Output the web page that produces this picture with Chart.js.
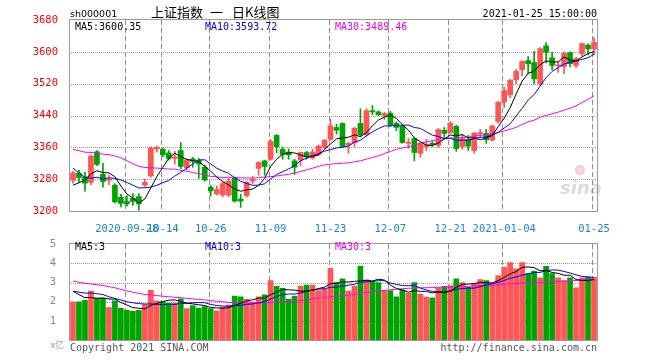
<!DOCTYPE html>
<html><head><meta charset="utf-8">
<script src="https://cdn.jsdelivr.net/npm/chart.js@4.4.1/dist/chart.umd.min.js"></script>
<style>
html,body{margin:0;padding:0;background:#fff;}
#wrap{position:relative;width:660px;height:360px;overflow:hidden;background:#fff;}
#c1{position:absolute;left:0;top:0;}
#c2{position:absolute;left:0;top:232px;}
</style></head><body>
<div id="wrap"><canvas id="c1" width="660" height="232"></canvas><canvas id="c2" width="660" height="128"></canvas></div>
<script>
// ---- data ----
const dates = ['2020-09-15','2020-09-16','2020-09-17','2020-09-18','2020-09-21','2020-09-22','2020-09-23','2020-09-24','2020-09-25','2020-09-28','2020-09-29','2020-09-30','2020-10-09','2020-10-12','2020-10-13','2020-10-14','2020-10-15','2020-10-16','2020-10-19','2020-10-20','2020-10-21','2020-10-22','2020-10-23','2020-10-26','2020-10-27','2020-10-28','2020-10-29','2020-10-30','2020-11-02','2020-11-03','2020-11-04','2020-11-05','2020-11-06','2020-11-09','2020-11-10','2020-11-11','2020-11-12','2020-11-13','2020-11-16','2020-11-17','2020-11-18','2020-11-19','2020-11-20','2020-11-23','2020-11-24','2020-11-25','2020-11-26','2020-11-27','2020-11-30','2020-12-01','2020-12-02','2020-12-03','2020-12-04','2020-12-07','2020-12-08','2020-12-09','2020-12-10','2020-12-11','2020-12-14','2020-12-15','2020-12-16','2020-12-17','2020-12-18','2020-12-21','2020-12-22','2020-12-23','2020-12-24','2020-12-25','2020-12-28','2020-12-29','2020-12-30','2020-12-31','2021-01-04','2021-01-05','2021-01-06','2021-01-07','2021-01-08','2021-01-11','2021-01-12','2021-01-13','2021-01-14','2021-01-15','2021-01-18','2021-01-19','2021-01-20','2021-01-21','2021-01-22','2021-01-25'];
const opens = [3277,3295,3286,3272,3349,3292,3277,3265,3235,3224,3232,3236,
  3265,3288,3356,3355,3346,3332,3352,3309,3331,3328,3310,3260,3243,3240,3240,3282,
  3230,3238,3275,3307,3326,3330,3390,3355,3348,3326,3328,3347,3333,3342,3360,3380,3410,3420,3366,3372,3420,
  3392,3452,3449,3440,3446,3420,3413,3370,3382,3345,3362,3370,3365,3403,3397,3413,3362,3380,3352,3394,3395,3378,3425,
  3474,3492,3530,3555,3578,3573,3520,3615,3585,3565,3563,3598,3566,3595,3617,3607];
const highs = [3300,3302,3298,3341,3352,3320,3290,3268,3242,3238,3244,3244,
  3280,3361,3364,3358,3352,3350,3372,3331,3335,3332,3315,3264,3263,3272,3282,3285,
  3242,3275,3287,3324,3328,3380,3392,3360,3356,3330,3348,3350,3355,3366,3380,3430,3418,3422,3373,3410,3457,
  3457,3465,3452,3448,3450,3424,3415,3382,3384,3372,3380,3376,3407,3410,3425,3416,3393,3390,3397,3405,3405,3416,3476,
  3511,3530,3556,3578,3588,3601,3611,3623,3599,3575,3600,3600,3586,3622,3620,3636];
const lows = [3270,3272,3250,3266,3314,3260,3266,3220,3210,3212,3214,3202,
  3262,3285,3348,3336,3328,3318,3306,3303,3310,3282,3275,3238,3240,3236,3236,3222,
  3209,3235,3268,3290,3290,3328,3346,3330,3330,3292,3313,3330,3330,3338,3355,3378,3393,3360,3345,3362,3386,
  3388,3442,3440,3430,3412,3402,3370,3357,3326,3335,3352,3362,3360,3385,3395,3350,3355,3352,3345,3385,3370,3376,3420,
  3460,3484,3520,3540,3545,3520,3515,3572,3555,3548,3545,3562,3560,3590,3592,3592];
const closes = [3296,3284,3270,3338,3317,3274,3280,3223,3219,3218,3224,3218,
  3272,3358,3360,3341,3332,3336,3312,3328,3325,3318,3278,3251,3254,3269,3275,3225,
  3225,3272,3279,3322,3312,3375,3362,3342,3341,3310,3347,3338,3348,3363,3378,3414,3403,3362,3370,3408,3392,
  3452,3449,3442,3445,3417,3410,3372,3373,3347,3369,3367,3367,3405,3395,3421,3357,3382,3363,3396,3397,3379,3414,3473,
  3503,3529,3551,3576,3570,3532,3608,3599,3566,3567,3596,3570,3583,3621,3607,3624];
const volumes = [2.0,2.0,2.07,2.55,2.2,2.18,1.7,2.05,1.66,1.55,1.5,1.55,
  1.85,2.6,2.04,2.0,1.92,1.93,2.15,1.64,1.8,1.67,1.75,1.64,1.53,1.72,1.82,2.3,
  2.25,2.13,2.0,2.25,2.36,3.1,2.8,2.7,2.14,2.3,2.82,2.87,2.87,2.58,2.66,3.75,3.0,3.2,2.55,2.82,3.86,
  3.15,3.04,3.0,2.6,2.58,2.25,2.62,2.45,3.0,2.4,2.24,2.2,2.72,2.8,2.84,3.2,3.0,2.75,2.95,3.16,3.1,2.95,3.36,
  3.8,4.05,3.72,4.05,3.47,3.6,3.25,3.85,3.47,3.25,3.1,3.25,2.72,3.25,3.27,3.27];
// sessions before the visible window (estimated) so the moving averages start where the picture shows them
const closesBeforeWindow = [3377.56,3386.46,3354.04,3379.25,3340.29,3319.27,3320.73,3360.10,3438.80,3451.09,3408.13,3363.90,3380.68,3385.64,3373.58,3364.74,3350.59,3403.81,3395.68,3410.61,3404.80,3384.98,3355.37,3292.59,3316.42,3254.63,3234.82,3260.35,3278.81];
const volumesBeforeWindow = [3.9,3.7,3.6,3.4,3.5,3.3,3.9,4.3,3.8,3.5,3.4,3.6,3.5,2.9,3.0,2.7,2.8,2.6,2.9,2.6,2.5,2.6,2.45,2.6,2.6,2.9,2.85,2.5,2.5];
const tickDates = ['2020-09-28','2020-10-14','2020-10-26','2020-11-09','2020-11-23','2020-12-07','2020-12-21','2021-01-04','2021-01-25'];
const tickTexts = ['2020-09-28','10-14','10-26','11-09','11-23','12-07','12-21','2021-01-04','01-25'];
const priceMin = 3200, priceMax = 3680, priceStep = 80;
const volMin = 0, volMax = 5, volStep = 1;
const maPeriods = [5, 10, 30];
const priceLegend = ['MA5:3600.35','MA10:3593.72','MA30:3489.46'];
const volLegend = ['MA5:3','MA10:3','MA30:3'];
const titleCode = 'sh000001';
const titleParts = ['上证指数', '一', '日K线图'];
const timeStamp = '2021-01-25 15:00:00';

// ---- styles ----
const RED = '#ff5555', GREEN = '#00a400';
const MA_COLORS = ['#000000', '#0000ff', '#ff00ff'];
const MONO = '"DejaVu Sans Mono", monospace';

function movingAverage(series, before, n) {
  const all = before.concat(series);
  return series.map((_, i) => {
    const end = before.length + i;
    let s = 0;
    for (let k = end - n + 1; k <= end; k++) s += all[k];
    return s / n;
  });
}
const tickMap = {};
tickDates.forEach((d, j) => { const i = dates.indexOf(d); if (i >= 0) tickMap[i] = tickTexts[j]; });
const candleColors = dates.map((_, i) => closes[i] >= opens[i] ? RED : GREEN);
const bodies = dates.map((_, i) => [opens[i], closes[i]]);
const wicks = dates.map((_, i) => [lows[i], highs[i]]);
const priceMA = maPeriods.map(n => movingAverage(closes, closesBeforeWindow, n));
const volMA = maPeriods.map(n => movingAverage(volumes, volumesBeforeWindow, n));

function xScale(showTicks, h) {
  return {
    offset: true,
    ticks: { display: showTicks, autoSkip: false, maxRotation: 0, minRotation: 0, color: '#1a82d8',
      font: { family: MONO, size: 10.5 }, padding: 4, callback: (v, i) => tickMap[i] || '' },
    grid: { display: false, offset: false },
    border: { display: false },
    afterFit: s => { s.height = h; }
  };
}
function lineDs(data, color) {
  return { type: 'line', data, borderColor: color, borderWidth: 1, pointRadius: 0, tension: 0, order: 0, fill: false };
}
// grid + frame positioned through the chart's own scales
const gridPlugin = {
  id: 'klineGrid',
  beforeDatasetsDraw(chart) {
    const ctx = chart.ctx, a = chart.chartArea, xs = chart.scales.x, ys = chart.scales.y;
    ctx.save();
    Object.keys(tickMap).forEach(k => {
      const px = Math.round(xs.getPixelForValue(Number(k)) - 2);
      for (let yy = Math.round(a.top); yy < a.bottom; yy += 8) {
        ctx.fillStyle = '#8c8c8c';
        ctx.fillRect(px, yy, 1, Math.min(5, a.bottom - yy));
      }
    });
    ys.ticks.forEach(t => {
      if (t.value === ys.min || t.value === ys.max) return;
      const py = Math.round(ys.getPixelForValue(t.value));
      for (let xx = Math.round(a.left) + 1; xx < a.right; xx += 2) {
        ctx.fillStyle = '#999999';
        ctx.fillRect(xx, py, 1, 1);
      }
    });
    ctx.restore();
  },
  afterDraw(chart) {
    const ctx = chart.ctx, a = chart.chartArea;
    const l = Math.round(a.left) - 1, r = Math.round(a.right), t = Math.round(a.top) - 1, b = Math.round(a.bottom);
    ctx.save();
    ctx.fillStyle = '#9a9a9a';
    ctx.fillRect(l, t, r - l + 1, 1);
    ctx.fillRect(l, b, r - l + 1, 1);
    ctx.fillRect(l, t, 1, b - t + 1);
    ctx.fillRect(r, t, 1, b - t + 1);
    ctx.restore();
  }
};
function text(ctx, s, x, y, color, font, align) {
  ctx.fillStyle = color; ctx.font = font; ctx.textAlign = align || 'left'; ctx.textBaseline = 'alphabetic';
  ctx.fillText(s, x, y);
}

new Chart(document.getElementById('c1'), {
  type: 'bar',
  data: {
    labels: dates,
    datasets: [
      lineDs(priceMA[0], MA_COLORS[0]), lineDs(priceMA[1], MA_COLORS[1]), lineDs(priceMA[2], MA_COLORS[2]),
      { type: 'bar', data: bodies, backgroundColor: candleColors, barThickness: 5, grouped: false, minBarLength: 1, order: 1 },
      { type: 'bar', data: wicks, backgroundColor: candleColors, barThickness: 1, grouped: false, order: 2 }
    ]
  },
  options: {
    responsive: false, animation: false, events: [],
    layout: { padding: { left: 0, right: 63, top: 20, bottom: 0 } },
    plugins: { legend: { display: false }, tooltip: { enabled: false } },
    scales: {
      x: xScale(true, 21),
      y: {
        min: priceMin, max: priceMax,
        ticks: { stepSize: priceStep, color: '#ff0000', font: { family: MONO, size: 10.5 }, padding: 4,
          callback: v => String(v) },
        grid: { display: false },
        border: { display: false },
        afterFit: s => { s.width = 70; }
      }
    }
  },
  plugins: [gridPlugin, {
    id: 'deco1',
    afterDraw(chart) {
      const ctx = chart.ctx;
      ctx.save();
      text(ctx, titleCode, 70, 17, '#000', '9.5px "DejaVu Sans"');
      text(ctx, titleParts[0], 151, 17, '#000', '13px "Noto Sans CJK SC"');
      text(ctx, titleParts[1], 210, 17, '#000', '13px "Noto Sans CJK SC"');
      text(ctx, titleParts[2], 232, 17, '#000', '13px "Noto Sans CJK SC"');
      text(ctx, timeStamp, 597, 17, '#000', '10px ' + MONO, 'right');
      text(ctx, priceLegend[0], 75, 30, MA_COLORS[0], '10px ' + MONO);
      text(ctx, priceLegend[1], 205, 30, '#0000ee', '10px ' + MONO);
      text(ctx, priceLegend[2], 335, 30, '#ee00ee', '10px ' + MONO);
      // sina watermark
      ctx.globalAlpha = 0.35;
      ctx.fillStyle = '#e07070';
      ctx.beginPath(); ctx.arc(580, 170, 5, 0, Math.PI * 2); ctx.fill();
      ctx.fillStyle = '#ffffff';
      ctx.beginPath(); ctx.arc(580, 170, 2.5, 0, Math.PI * 2); ctx.fill();
      text(ctx, 'sina', 560, 194, '#999', 'italic bold 18px "DejaVu Sans"');
      ctx.restore();
    }
  }]
});

new Chart(document.getElementById('c2'), {
  type: 'bar',
  data: {
    labels: dates,
    datasets: [
      lineDs(volMA[0], MA_COLORS[0]), lineDs(volMA[1], MA_COLORS[1]), lineDs(volMA[2], MA_COLORS[2]),
      { type: 'bar', data: volumes, backgroundColor: candleColors, barThickness: 5, grouped: false, order: 1 }
    ]
  },
  options: {
    responsive: false, animation: false, events: [],
    layout: { padding: { left: 0, right: 63, top: 8, bottom: 0 } },
    plugins: { legend: { display: false }, tooltip: { enabled: false } },
    scales: {
      x: xScale(false, 20),
      y: {
        min: volMin, max: volMax,
        ticks: { stepSize: volStep, color: '#888', font: { family: MONO, size: 10.5 }, padding: 6,
          callback: v => (v === volMin ? '' : String(v)) },
        grid: { display: false },
        border: { display: false },
        afterFit: s => { s.width = 70; }
      }
    }
  },
  plugins: [gridPlugin, {
    id: 'deco2',
    afterDraw(chart) {
      const ctx = chart.ctx;
      ctx.save();
      text(ctx, volLegend[0], 75, 18, MA_COLORS[0], '10px ' + MONO);
      text(ctx, volLegend[1], 205, 18, '#0000ee', '10px ' + MONO);
      text(ctx, volLegend[2], 335, 18, '#ee00ee', '10px ' + MONO);
      text(ctx, 'x亿', 64, 116, '#999', '9px "Noto Sans CJK SC"', 'right');
      text(ctx, 'Copyright 2021 SINA.COM', 70, 119, '#555', '10px ' + MONO);
      text(ctx, 'http://finance.sina.com.cn', 597, 119, '#555', '10px ' + MONO, 'right');
      ctx.restore();
    }
  }]
});
</script>
</body></html>
